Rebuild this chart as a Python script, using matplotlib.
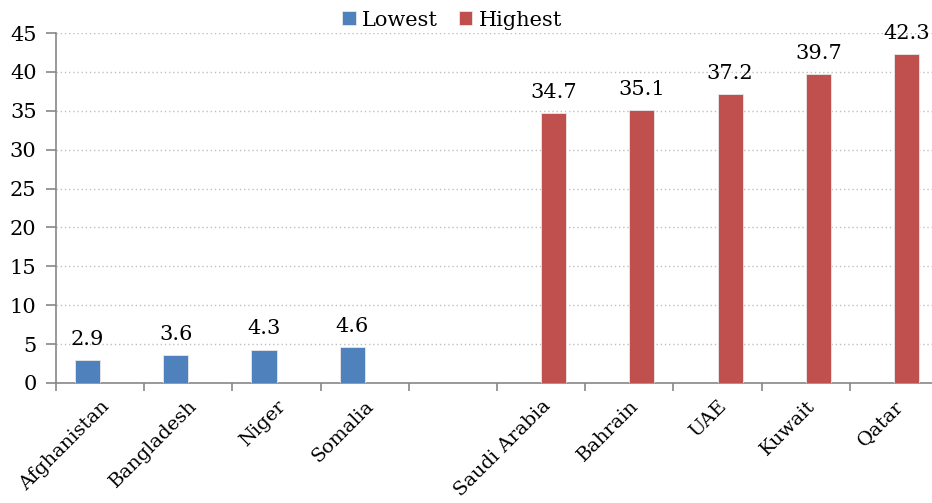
import numpy as np
import matplotlib.pyplot as plt

plt.rcParams['font.family'] = ['DejaVu Serif']

categories = ["Afghanistan", "Bangladesh", "Niger", "Somalia", "",
              "Saudi Arabia", "Bahrain", "UAE", "Kuwait", "Qatar"]
lowest = [2.9, 3.6, 4.3, 4.6, None, None, None, None, None, None]
highest = [None, None, None, None, None, 34.7, 35.1, 37.2, 39.7, 42.3]

blue = "#4F81BD"
red = "#C0504D"
axis_grey = "#878787"
fs = 15

fig = plt.figure(figsize=(9.32, 5.03), dpi=100)
ax = fig.add_axes([56/932, 120/503, 882/932, 350/503])

x = np.arange(len(categories))
w = 0.285


def draw(vals, offset, color, label):
    xs = [xi + offset for xi, v in zip(x, vals) if v is not None]
    vs = [v for v in vals if v is not None]
    bars = ax.bar(xs, vs, width=w, color=color, edgecolor="#e8e8e8",
                  linewidth=0.6, label=label, zorder=3)
    for b, v in zip(bars, vs):
        ax.annotate(f"{v:.1f}", (b.get_x() + b.get_width()/2, v),
                    xytext=(0, 8), textcoords="offset points",
                    ha="center", va="bottom", fontsize=fs)


draw(lowest, -w/2, blue, "Lowest")
draw(highest, w/2, red, "Highest")

ax.set_xlim(-0.5, len(categories) - 0.5)
ax.set_ylim(0, 45)
ax.set_yticks(np.arange(0, 46, 5))
ax.yaxis.grid(True, linestyle=(0, (1, 2)), color="#bfbfbf", linewidth=1, zorder=0)
ax.set_axisbelow(True)

# ticks sit on category boundaries, labels on category centres
ax.set_xticks(np.arange(-0.5, len(categories)), minor=False)
ax.set_xticklabels([])
ax.set_xticks(x, minor=True)
ax.set_xticklabels(categories, minor=True, rotation=45, ha="right",
                   rotation_mode="anchor", fontsize=14)
ax.tick_params(axis="x", which="minor", length=0, pad=10)
ax.tick_params(axis="x", which="major", length=6, color=axis_grey, width=1.2)
ax.tick_params(axis="y", length=7, color=axis_grey, width=1.2, labelsize=fs, pad=7)

for s in ["top", "right"]:
    ax.spines[s].set_visible(False)
for s in ["left", "bottom"]:
    ax.spines[s].set_color(axis_grey)
    ax.spines[s].set_linewidth(1.2)

fig.legend(loc="center", bbox_to_anchor=(452/932, 1 - 20/503), ncol=2,
           frameon=False, fontsize=fs, handlelength=0.65, handleheight=0.65,
           handletextpad=0.3, columnspacing=1.0, borderaxespad=0)

fig.savefig("out.png", dpi=100)
